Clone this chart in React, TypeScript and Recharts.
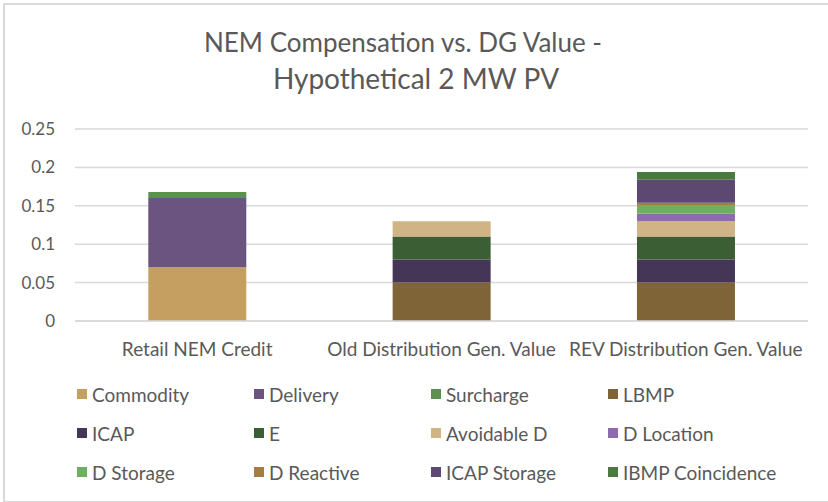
import { BarChart, Bar, XAxis, YAxis, CartesianGrid } from 'recharts'

const categories = ['Retail NEM Credit', 'Old Distribution Gen. Value', 'REV Distribution Gen. Value']

const commodity = [0.07, 0, 0]
const delivery = [0.09, 0, 0]
const surcharge = [0.008, 0, 0]
const lbmp = [0, 0.05, 0.05]
const icap = [0, 0.03, 0.03]
const e = [0, 0.03, 0.03]
const avoidableD = [0, 0.02, 0.02]
const dLocation = [0, 0, 0.01]
const dStorage = [0, 0, 0.01]
const dReactive = [0, 0, 0.004]
const icapStorage = [0, 0, 0.03]
const ibmpCoincidence = [0, 0, 0.01]

const yTicks = [0, 0.05, 0.1, 0.15, 0.2, 0.25]

const SERIES = [
  { key: 'commodity', name: 'Commodity', values: commodity, color: '#C59E62' },
  { key: 'delivery', name: 'Delivery', values: delivery, color: '#6B5480' },
  { key: 'surcharge', name: 'Surcharge', values: surcharge, color: '#5A9150' },
  { key: 'lbmp', name: 'LBMP', values: lbmp, color: '#7F6437' },
  { key: 'icap', name: 'ICAP', values: icap, color: '#453557' },
  { key: 'e', name: 'E', values: e, color: '#3B5E35' },
  { key: 'avoidableD', name: 'Avoidable D', values: avoidableD, color: '#D1B485' },
  { key: 'dLocation', name: 'D Location', values: dLocation, color: '#8D6BAE' },
  { key: 'dStorage', name: 'D Storage', values: dStorage, color: '#6DB15E' },
  { key: 'dReactive', name: 'D Reactive', values: dReactive, color: '#A67C45' },
  { key: 'icapStorage', name: 'ICAP Storage', values: icapStorage, color: '#5C4870' },
  { key: 'ibmpCoincidence', name: 'IBMP Coincidence', values: ibmpCoincidence, color: '#4A7A3F' },
]

const data = categories.map((name, i) => {
  const row: Record<string, string | number> = { name }
  SERIES.forEach(s => {
    row[s.key] = s.values[i]
  })
  return row
})

const FONT = 'Lato, "Open Sans", sans-serif'
const TEXT = '#595959'

export default function App() {
  return (
    <div style={{ position: 'fixed', left: 0, top: 0, width: 828, height: 502, background: '#fff', fontFamily: FONT, overflow: 'hidden' }}>
      <div style={{ position: 'absolute', left: 3, top: 3, width: 830, height: 500, border: '2px solid #d9d9d9', boxSizing: 'border-box' }} />
      <div style={{ position: 'absolute', left: 0, top: 24, width: 828, textAlign: 'center', color: TEXT, fontSize: 27, lineHeight: '36px' }}>
        <div style={{ paddingRight: 22, fontSize: 26 }}>NEM Compensation vs. DG Value -</div>
        <div style={{ fontSize: 28, paddingLeft: 4 }}>Hypothetical 2 MW PV</div>
      </div>
      <div style={{ position: 'absolute', left: 0, top: 0 }}>
        <BarChart width={828} height={502} data={data} margin={{ top: 129, right: 20, left: 0, bottom: 141 }} barCategoryGap="30%">
          <CartesianGrid vertical={false} stroke="#d9d9d9" strokeWidth={1.5} />
          <XAxis dataKey="name" axisLine={{ stroke: '#d9d9d9', strokeWidth: 1.5 }} tickLine={false} height={40} tickMargin={16} tick={{ fill: TEXT, fontSize: 19, fontFamily: FONT }} interval={0} />
          <YAxis width={75} domain={[0, 0.25]} ticks={yTicks} axisLine={false} tickLine={false} tickMargin={14} tick={{ fill: TEXT, fontSize: 17, fontFamily: FONT }} />
          {SERIES.map(s => (
            <Bar key={s.key} dataKey={s.key} name={s.name} stackId="a" fill={s.color} isAnimationActive={false} />
          ))}
        </BarChart>
      </div>
      {SERIES.map((s, i) => {
        const col = i % 4
        const row = Math.floor(i / 4)
        return (
          <div key={s.key} style={{ position: 'absolute', left: 77 + col * 177, top: 394 + row * 39 - 12, height: 24, display: 'flex', alignItems: 'center', color: TEXT, fontSize: 19 }}>
            <span style={{ display: 'inline-block', width: 10, height: 10, background: s.color, marginRight: 5 }} />
            <span>{s.name}</span>
          </div>
        )
      })}
    </div>
  )
}
